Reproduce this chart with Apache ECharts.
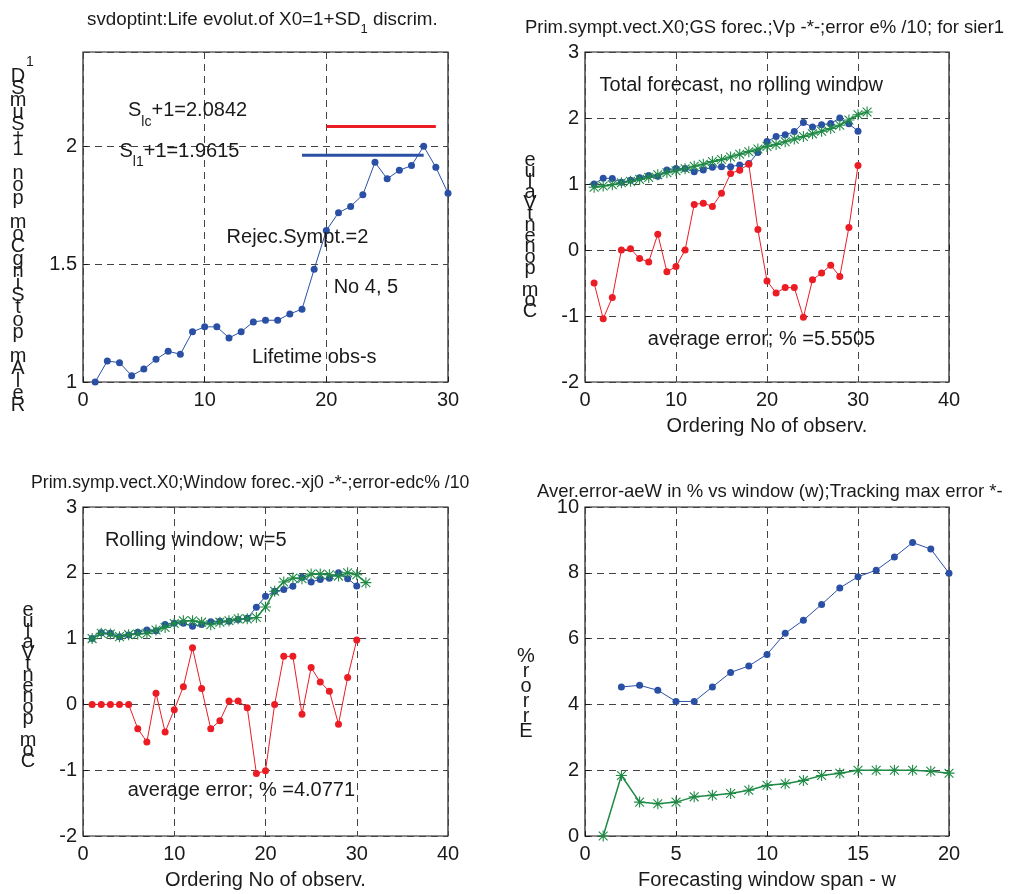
<!DOCTYPE html>
<html lang="en">
<head>
<meta charset="UTF-8">
<title>svdoptint forecasts</title>
<script src="https://cdn.jsdelivr.net/npm/echarts@6/dist/echarts.min.js"></script>
<style>
    body { margin: 0; background: #fff; }
    #chart { width: 1015px; height: 894px; }
</style>
</head>
<body>
<div id="chart"></div>
<script>
// ---- data ----
var obsNo    = [1,2,3,4,5,6,7,8,9,10,11,12,13,14,15,16,17,18,19,20,21,22,23,24,25,26,27,28,29,30];
var obsNoExt = [1,2,3,4,5,6,7,8,9,10,11,12,13,14,15,16,17,18,19,20,21,22,23,24,25,26,27,28,29,30,31];

// life evolution of X0 (blue dots, same in three panels)
var lifeX0 = [1.000,1.089,1.082,1.027,1.055,1.096,1.130,1.118,1.213,1.234,
              1.234,1.187,1.213,1.255,1.262,1.262,1.289,1.309,1.478,1.643,
              1.718,1.745,1.794,1.932,1.862,1.898,1.918,2.000,1.911,1.801];

// discrimination levels (panel 1)
var slcLevel = 2.0842, slcFrom = 20, slcTo = 29;
var sl1Level = 1.9615, sl1From = 18, sl1To = 28;

// GS total forecast (green *) and error e%/10 (red)
var gsForecast = [0.95,0.97,0.99,1.02,1.04,1.07,1.10,1.14,1.17,1.20,
                  1.23,1.27,1.30,1.34,1.37,1.41,1.45,1.49,1.53,1.57,
                  1.60,1.64,1.68,1.72,1.76,1.80,1.84,1.89,1.97,2.05,2.09];
var gsError = [-0.50,-1.04,-0.72,0.00,0.02,-0.13,-0.18,0.24,-0.33,-0.25,
               0.00,0.69,0.71,0.66,0.86,1.16,1.21,1.30,0.31,-0.47,
               -0.65,-0.57,-0.57,-1.02,-0.45,-0.35,-0.23,-0.40,0.34,1.28];
var gsAvgError = '5.5505';

// rolling window w=5 forecast (green *) and error (red)
var winForecast = [1.00,1.08,1.07,1.03,1.06,1.07,1.08,1.13,1.17,1.23,
                   1.27,1.27,1.25,1.21,1.25,1.27,1.30,1.30,1.32,1.48,
                   1.72,1.86,1.92,1.91,1.98,1.98,1.97,1.95,2.00,1.97,1.85];
var winError = [0.00,0.00,0.00,0.00,0.00,-0.37,-0.57,0.17,-0.42,-0.08,
                0.27,0.86,0.24,-0.37,-0.25,0.05,0.05,-0.05,-1.05,-1.01,
                0.00,0.73,0.73,-0.15,0.56,0.34,0.20,-0.30,0.41,0.98];
var winAvgError = '4.0771';

// average error vs window span (blue) and tracking max error (green *)
var windowSpan = [1,2,3,4,5,6,7,8,9,10,11,12,13,14,15,16,17,18,19,20];
var averErr = [null,4.53,4.58,4.43,4.09,4.09,4.53,4.97,5.17,5.52,
               6.16,6.56,7.04,7.54,7.88,8.08,8.48,8.92,8.72,7.99];
var maxErr = [0.00,1.84,1.03,0.98,1.03,1.19,1.24,1.29,1.39,1.54,
              1.59,1.69,1.84,1.91,2.00,2.00,2.00,2.00,1.97,1.91];

// ---- styling ----
var FONT = 'Liberation Sans, Arial, Helvetica, sans-serif';
var INK = '#1a1a1a';
var BLUE = '#2a50a6';
var RED = '#ec1c24';
var GREEN = '#1f8a45';
// matlab "*" marker
var STAR = 'path://M9 0L11 0L11 20L9 20Z M0 9L20 9L20 11L0 11Z ' +
           'M2.7 1.3L18.7 17.3L17.3 18.7L1.3 2.7Z M17.3 1.3L18.7 2.7L2.7 18.7L1.3 17.3Z';

function pairs(xs, ys) {
    return xs.map(function (x, i) { return [x, ys[i]]; });
}

var dashed = { show: true, lineStyle: { type: [7, 5], color: '#444', width: 1 } };

function xAx(g, min, max, interval, name) {
    return {
        type: 'value', gridIndex: g, min: min, max: max, interval: interval,
        axisLine: { show: false },
        axisTick: { show: true, inside: true, length: 5, lineStyle: { color: INK } },
        axisLabel: { color: INK, fontSize: 20, fontFamily: FONT, margin: 8 },
        splitLine: dashed,
        name: name || '', nameLocation: 'middle', nameGap: 34,
        nameTextStyle: { color: INK, fontSize: 20, fontFamily: FONT }
    };
}

function yAx(g, min, max, interval, hideMax) {
    return {
        type: 'value', gridIndex: g, min: min, max: max, interval: interval,
        axisLine: { show: false },
        axisTick: { show: true, inside: true, length: 5, lineStyle: { color: INK } },
        axisLabel: { color: INK, fontSize: 20, fontFamily: FONT, margin: 6, showMaxLabel: !hideMax },
        splitLine: dashed
    };
}

function dotLine(g, data, color, width) {
    return {
        type: 'line', xAxisIndex: g, yAxisIndex: g, data: data,
        symbol: 'circle', symbolSize: 7, showSymbol: true,
        itemStyle: { color: color }, lineStyle: { color: color, width: width || 1 },
        animation: false, silent: true
    };
}

function starLine(g, data) {
    return {
        type: 'line', xAxisIndex: g, yAxisIndex: g, data: data,
        symbol: STAR, symbolSize: 11, showSymbol: true,
        itemStyle: { color: GREEN }, lineStyle: { color: GREEN, width: 1.5 },
        animation: false, silent: true, z: 3
    };
}

function hLine(g, level, from, to, color) {
    return {
        type: 'line', xAxisIndex: g, yAxisIndex: g,
        data: [[from, level], [to, level]], showSymbol: false, symbol: 'none',
        lineStyle: { color: color, width: 3 }, animation: false, silent: true
    };
}

var subRich = {
    sub: { fontSize: 14, fontFamily: FONT, color: INK, lineHeight: 36, verticalAlign: 'bottom' }
};

function notes(g, items) {
    return {
        type: 'scatter', xAxisIndex: g, yAxisIndex: g, symbolSize: 0, silent: true,
        animation: false, z: 5,
        itemStyle: { opacity: 1 },
        label: {
            show: true, position: 'right', distance: 0, opacity: 1,
            color: INK, fontSize: 20, fontFamily: FONT, rich: subRich
        },
        data: items.map(function (it) {
            return { value: [it[0], it[1]], label: { formatter: it[2] } };
        })
    };
}

function stacked(x, y, chars, lh) {
    return {
        type: 'text', x: x, y: y, silent: true,
        style: {
            text: chars.join('\n'), fill: INK, font: '20px ' + FONT,
            textAlign: 'center', textVerticalAlign: 'top', align: 'center', verticalAlign: 'top',
            lineHeight: lh
        }
    };
}

function ttl(text, left, top, size) {
    return {
        text: text, left: left, top: top, padding: 0,
        textStyle: { color: INK, fontSize: size || 18.5, fontWeight: 'normal', fontFamily: FONT, rich: {
            sub: { fontSize: 13, fontFamily: FONT, color: INK, lineHeight: 32, verticalAlign: 'bottom' }
        } }
    };
}

var chart = echarts.init(document.getElementById('chart'));

var option = {
    backgroundColor: '#fff',
    animation: false,
    title: [
        ttl('svdoptint:Life evolut.of X0=1+SD{sub|1} discrim.', 87, 4, 18.8),
        ttl('Prim.sympt.vect.X0;GS forec.;Vp -*-;error e% /10; for sier1', 525, 18),
        ttl('Prim.symp.vect.X0;Window forec.-xj0 -*-;error-edc% /10', 31, 474, 17.7),
        ttl('Aver.error-aeW in % vs window (w);Tracking max error *-', 537, 482)
    ],
    grid: [
        { left: 83, top: 52, width: 365, height: 330, show: true, borderColor: INK, borderWidth: 1.2, backgroundColor: '#fff', outerBoundsMode: 'none' },
        { left: 585, top: 52, width: 364, height: 330, show: true, borderColor: INK, borderWidth: 1.2, backgroundColor: '#fff', outerBoundsMode: 'none' },
        { left: 83, top: 507, width: 365, height: 329, show: true, borderColor: INK, borderWidth: 1.2, backgroundColor: '#fff', outerBoundsMode: 'none' },
        { left: 585, top: 507, width: 364, height: 329, show: true, borderColor: INK, borderWidth: 1.2, backgroundColor: '#fff', outerBoundsMode: 'none' }
    ],
    xAxis: [
        xAx(0, 0, 30, 10),
        xAx(1, 0, 40, 10, 'Ordering No of observ.'),
        xAx(2, 0, 40, 10, 'Ordering No of observ.'),
        xAx(3, 0, 20, 5, 'Forecasting window span - w')
    ],
    yAxis: [
        yAx(0, 1, 2.4, 0.5, true),
        yAx(1, -2, 3, 1),
        yAx(2, -2, 3, 1),
        yAx(3, 0, 10, 2)
    ],
    graphic: [
        stacked(18, 70, ['D','S','m','u','S','+','1','','n','o','p','','m','o','C','g','n','i','S','t','o','p','','m','A','l','e','R'], 12.2),
        { type: 'text', x: 30, y: 55, silent: true,
          style: { text: '1', fill: INK, font: '14px ' + FONT, textAlign: 'center', align: 'center' } },
        stacked(530, 155, ['e','u','l','a','V','t','n','e','n','o','p','','m','o','C'], 10.8),
        stacked(28, 605, ['e','u','l','a','V','t','n','e','n','o','p','','m','o','C'], 10.8),
        stacked(526, 649, ['%','r','o','r','r','E'], 15)
    ],
    series: [
        // panel 1
        hLine(0, slcLevel, slcFrom, slcTo, RED),
        hLine(0, sl1Level, sl1From, sl1To, BLUE),
        dotLine(0, pairs(obsNo, lifeX0), BLUE),
        notes(0, [
            [3.7, 2.15, 'S{sub|lc}+1=' + slcLevel.toFixed(4)],
            [3.0, 1.98, 'S{sub|l1}+1=' + sl1Level.toFixed(4)],
            [11.8, 1.613, 'Rejec.Sympt.=2'],
            [20.6, 1.40, 'No 4, 5'],
            [13.9, 1.106, 'Lifetime obs-s']
        ]),
        // panel 2
        dotLine(1, pairs(obsNo, lifeX0), BLUE),
        starLine(1, pairs(obsNoExt, gsForecast)),
        dotLine(1, pairs(obsNo, gsError), RED),
        notes(1, [
            [1.6, 2.49, 'Total forecast, no rolling window'],
            [6.9, -1.35, 'average error; % =' + gsAvgError]
        ]),
        // panel 3
        dotLine(2, pairs(obsNo, lifeX0), BLUE),
        starLine(2, pairs(obsNoExt, winForecast)),
        dotLine(2, pairs(obsNo, winError), RED),
        notes(2, [
            [2.4, 2.49, 'Rolling window; w=5'],
            [4.9, -1.31, 'average error; % =' + winAvgError]
        ]),
        // panel 4
        dotLine(3, pairs(windowSpan, averErr), BLUE),
        starLine(3, pairs(windowSpan, maxErr))
    ]
};

chart.setOption(option);
</script>
</body>
</html>
